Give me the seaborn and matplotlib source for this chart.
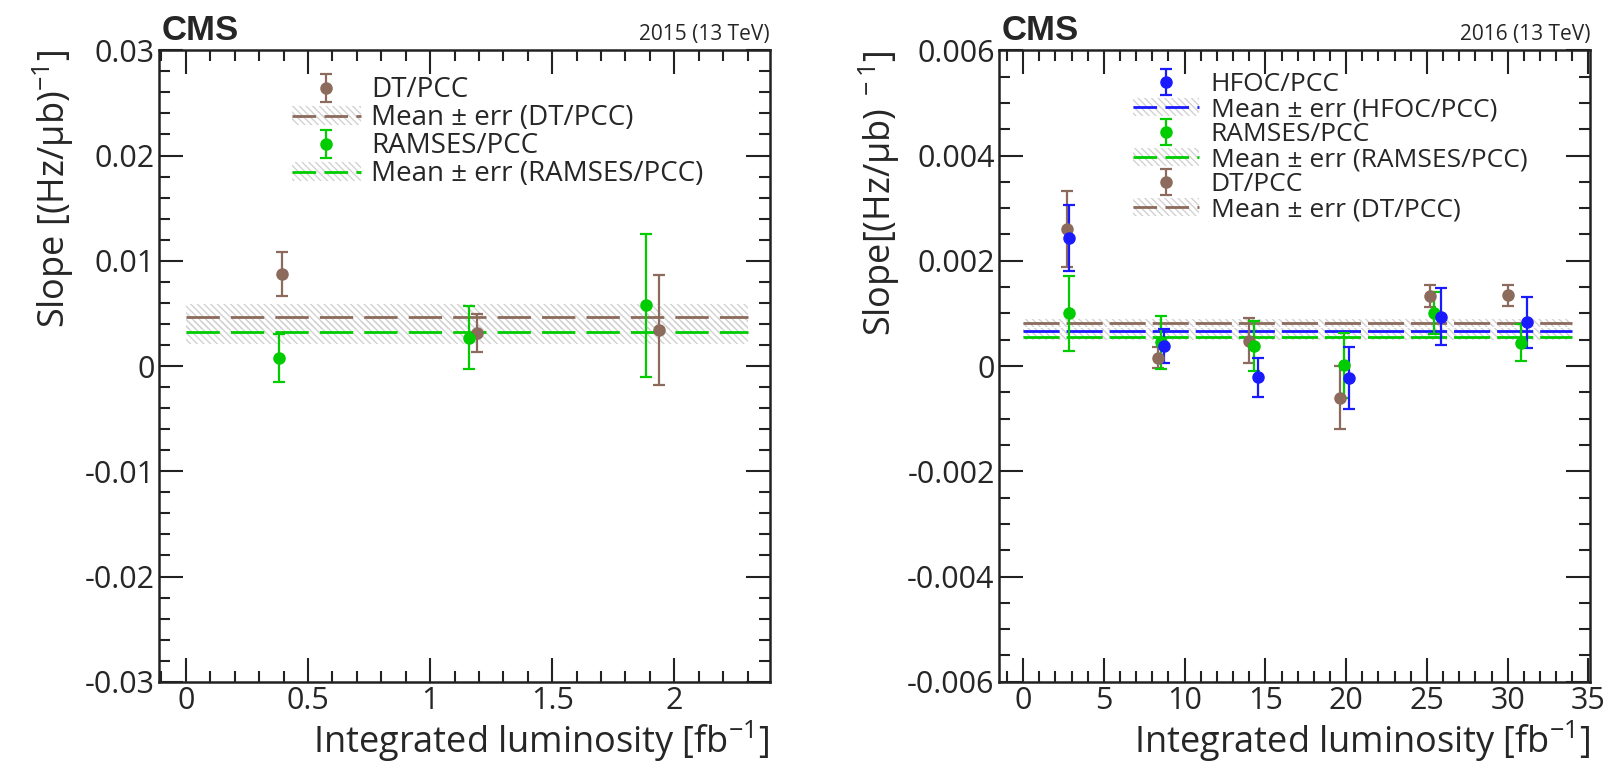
import numpy as np
import pandas as pd
import matplotlib
matplotlib.use("Agg")
import matplotlib.pyplot as plt
import seaborn as sns
from matplotlib.patches import Patch
from matplotlib.lines import Line2D
from matplotlib.legend_handler import HandlerTuple
from matplotlib.ticker import MultipleLocator, FuncFormatter

# ---------------- data: 2015 ----------------
lumi15_dt = [0.395, 1.194, 1.939]
slope15_dt = [0.00875, 0.0031, 0.0034]
err15_dt = [0.0021, 0.0018, 0.0052]
lumi15_ram = [0.383, 1.158, 1.886]
slope15_ram = [0.00078, 0.0027, 0.00575]
err15_ram = [0.0023, 0.0030, 0.0068]
mean15_dt, meanerr15_dt = 0.0047, 0.0012
mean15_ram, meanerr15_ram = 0.0032, 0.0011
mean15_range = [0.0, 2.3]

# ---------------- data: 2016 ----------------
lumi16_hfoc = [2.83, 8.73, 14.55, 20.2, 25.9, 31.2]
slope16_hfoc = [0.00243, 0.00038, -0.00021, -0.00022, 0.00094, 0.00083]
err16_hfoc = [0.00062, 0.00032, 0.00037, 0.00059, 0.00055, 0.00049]
lumi16_ram = [2.83, 8.53, 14.27, 19.87, 25.43, 30.8]
slope16_ram = [0.00100, 0.00045, 0.00038, 0.00001, 0.00101, 0.00044]
err16_ram = [0.00071, 0.00050, 0.00047, 0.00062, 0.00040, 0.00035]
lumi16_dt = [2.75, 8.34, 14.0, 19.6, 25.18, 29.99]
slope16_dt = [0.00261, 0.00016, 0.00048, -0.00060, 0.00133, 0.00134]
err16_dt = [0.00072, 0.00020, 0.00043, 0.00060, 0.00020, 0.00020]
mean16_hfoc, meanerr16_hfoc = 0.00067, 0.00006
mean16_ram, meanerr16_ram = 0.00055, 0.00006
mean16_dt, meanerr16_dt = 0.00082, 0.00008
mean16_range = [0.0, 34.0]

BROWN = "#8c6a5c"
GREEN = "#00cc00"
BLUE = "#1a1aff"
HATCH_C = "#d2d2d2"

sns.set_theme(style="ticks")
plt.rcParams["font.family"] = ["Open Sans", "DejaVu Sans"]
plt.rcParams["axes.unicode_minus"] = False
plt.rcParams["hatch.linewidth"] = 1.0
plt.rcParams["mathtext.fontset"] = "custom"
plt.rcParams["mathtext.rm"] = "Open Sans"
plt.rcParams["mathtext.it"] = "Open Sans"

fig = plt.figure(figsize=(16.11, 7.73), dpi=100)
ax1 = fig.add_axes([0.0987, 0.118, 0.379, 0.817])
ax2 = fig.add_axes([0.620, 0.118, 0.367, 0.817])

TICK_FS = 22
LEG_FS = 20
LAB_FS = 26
HATCH = "\\\\\\\\\\"
LEG_DASH = (8.5, 3)


def fmt(v, pos):
    if abs(v) < 1e-12:
        return "0"
    return ("%.4f" % v).rstrip("0")


def draw_mean(ax, rng, mean, err, color, dash):
    ax.fill_between(rng, [mean - err] * 2, [mean + err] * 2, facecolor="none",
                    edgecolor=HATCH_C, hatch=HATCH, linewidth=0, zorder=1)
    df = pd.DataFrame({"x": rng, "y": [mean, mean]})
    sns.lineplot(data=df, x="x", y="y", ax=ax, color=color, lw=2.0,
                 linestyle=(0, dash), zorder=2)


def draw_points(ax, x, y, e, color):
    return ax.errorbar(x, y, yerr=e, fmt="o", color=color, ms=8, lw=1.6,
                       capsize=4, capthick=1.6, zorder=3)


def style_axis(ax):
    ax.tick_params(which="both", direction="in", top=True, right=True,
                   labelsize=TICK_FS, width=1.5, color="#222222", pad=3)
    ax.tick_params(which="major", length=17)
    ax.tick_params(which="minor", length=8)
    for s in ax.spines.values():
        s.set_linewidth(1.8)
        s.set_color("#222222")
    ax.set_xlabel("Integrated luminosity [fb$^{-1}$]", fontsize=LAB_FS, loc="right",
                  labelpad=2)
    ax.yaxis.set_major_formatter(FuncFormatter(fmt))
    ax.xaxis.set_major_formatter(FuncFormatter(lambda v, p: ("%g" % v)))


def mean_handle(color):
    p = Patch(facecolor="none", edgecolor=HATCH_C, hatch=HATCH, linewidth=0)
    l = Line2D([], [], color=color, lw=2.0, linestyle=(0, LEG_DASH))
    return (p, l)


HMAP = {tuple: HandlerTuple(ndivide=1, pad=0)}

# ---------------- left panel ----------------
D1 = (12, 4)
draw_mean(ax1, mean15_range, mean15_dt, meanerr15_dt, BROWN, D1)
draw_mean(ax1, mean15_range, mean15_ram, meanerr15_ram, GREEN, D1)
h_dt = draw_points(ax1, lumi15_dt, slope15_dt, err15_dt, BROWN)
h_ram = draw_points(ax1, lumi15_ram, slope15_ram, err15_ram, GREEN)
ax1.set_xlim(-0.11, 2.39)
ax1.set_ylim(-0.03, 0.03)
ax1.xaxis.set_major_locator(MultipleLocator(0.5))
ax1.xaxis.set_minor_locator(MultipleLocator(0.1))
ax1.yaxis.set_major_locator(MultipleLocator(0.01))
ax1.yaxis.set_minor_locator(MultipleLocator(0.002))
style_axis(ax1)
ax1.set_ylabel("Slope [(Hz/\u03bcb)$^{-1}$]", fontsize=LAB_FS, loc="top", labelpad=6)
handles = [h_dt, mean_handle(BROWN), h_ram, mean_handle(GREEN)]
labels = ["DT/PCC", "Mean \u00b1 err (DT/PCC)", "RAMSES/PCC", "Mean \u00b1 err (RAMSES/PCC)"]
ax1.legend(handles, labels, loc="upper left", bbox_to_anchor=(0.19, 0.985),
           frameon=False, fontsize=LEG_FS, handlelength=2.5, handletextpad=0.35,
           labelspacing=0.0, borderaxespad=0.2, handler_map=HMAP)
ax1.text(0.005, 1.005, "CMS", transform=ax1.transAxes, fontsize=25,
         fontweight="bold", family="Liberation Sans", ha="left", va="bottom")
ax1.text(1.0, 1.008, "2015 (13 TeV)", transform=ax1.transAxes, fontsize=15,
         ha="right", va="bottom")

# ---------------- right panel ----------------
D2 = (13, 2.5)
draw_mean(ax2, mean16_range, mean16_dt, meanerr16_dt, BROWN, D2)
draw_mean(ax2, mean16_range, mean16_hfoc, meanerr16_hfoc, BLUE, D2)
draw_mean(ax2, mean16_range, mean16_ram, meanerr16_ram, GREEN, D2)
h2_dt = draw_points(ax2, lumi16_dt, slope16_dt, err16_dt, BROWN)
h2_ram = draw_points(ax2, lumi16_ram, slope16_ram, err16_ram, GREEN)
h2_hfoc = draw_points(ax2, lumi16_hfoc, slope16_hfoc, err16_hfoc, BLUE)
ax2.set_xlim(-1.5, 35.1)
ax2.set_ylim(-0.006, 0.006)
ax2.xaxis.set_major_locator(MultipleLocator(5))
ax2.xaxis.set_minor_locator(MultipleLocator(1))
ax2.yaxis.set_major_locator(MultipleLocator(0.002))
ax2.yaxis.set_minor_locator(MultipleLocator(0.0005))
style_axis(ax2)
ax2.set_ylabel("Slope[(Hz/\u03bcb)$^{\\ -1}$]", fontsize=LAB_FS, loc="top", labelpad=4)
handles2 = [h2_hfoc, mean_handle(BLUE), h2_ram, mean_handle(GREEN),
            h2_dt, mean_handle(BROWN)]
labels2 = ["HFOC/PCC", "Mean \u00b1 err (HFOC/PCC)", "RAMSES/PCC",
           "Mean \u00b1 err (RAMSES/PCC)", "DT/PCC", "Mean \u00b1 err (DT/PCC)"]
ax2.legend(handles2, labels2, loc="upper left", bbox_to_anchor=(0.2, 0.99),
           frameon=False, fontsize=19, handlelength=2.5, handletextpad=0.45,
           labelspacing=0.0, borderaxespad=0.2, handler_map=HMAP)
ax2.text(0.005, 1.005, "CMS", transform=ax2.transAxes, fontsize=25,
         fontweight="bold", family="Liberation Sans", ha="left", va="bottom")
ax2.text(1.0, 1.008, "2016 (13 TeV)", transform=ax2.transAxes, fontsize=15,
         ha="right", va="bottom")

fig.savefig("out.png", dpi=100)
